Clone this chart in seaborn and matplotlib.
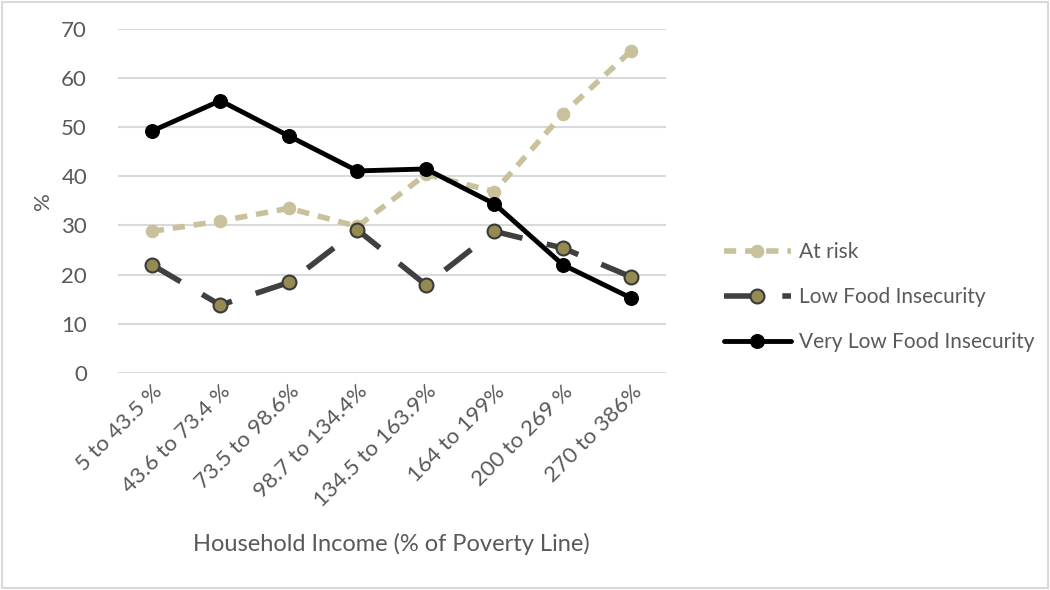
import pandas as pd
import matplotlib
matplotlib.use("Agg")
import matplotlib.pyplot as plt
import seaborn as sns

sns.set_style("white")
plt.rcParams["font.family"] = ["Lato", "DejaVu Sans"]

categories = ["5 to 43.5 %", "43.6 to 73.4 %", "73.5 to 98.6%", "98.7 to 134.4%",
              "134.5 to 163.9%", "164 to 199%", "200 to 269 %", "270 to 386%"]
at_risk = [28.8, 30.9, 33.5, 29.8, 40.4, 36.9, 52.7, 65.6]
low_fi = [22.0, 13.8, 18.4, 29.1, 17.9, 28.8, 25.4, 19.5]
very_low_fi = [49.2, 55.4, 48.2, 41.1, 41.5, 34.4, 22.0, 15.2]

df = pd.DataFrame({"cat": categories, "pos": range(len(categories)),
                   "At risk": at_risk, "Low Food Insecurity": low_fi,
                   "Very Low Food Insecurity": very_low_fi})

fig = plt.figure(figsize=(10.5, 5.9), dpi=100)
ax = fig.add_axes([0.112, 0.368, 0.522, 0.583])

txt = "#595959"

sns.lineplot(data=df, x="pos", y="At risk", ax=ax, color="#C9C19B", lw=4,
             marker="o", markersize=9, markeredgecolor="#C9C19B",
             dashes=(2.2, 1.6), label="At risk", zorder=3)
sns.lineplot(data=df, x="pos", y="Low Food Insecurity", ax=ax, color="#404040", lw=4,
             marker="o", markersize=10, markerfacecolor="#948A52",
             markeredgecolor="#3a3a3a", markeredgewidth=1.5,
             dashes=(6, 4.5), label="Low Food Insecurity", zorder=4)
sns.lineplot(data=df, x="pos", y="Very Low Food Insecurity", ax=ax, color="black", lw=3.5,
             marker="o", markersize=10, markeredgecolor="black",
             label="Very Low Food Insecurity", zorder=5)

ax.set_xlim(-0.5, len(categories) - 0.5)
ax.set_ylim(0, 70)
ax.set_yticks(range(0, 71, 10))
ax.set_xticks(df["pos"])
ax.set_xticklabels(categories, rotation=45, ha="right", rotation_mode="anchor",
                   fontsize=16, color=txt)
ax.tick_params(axis="y", labelsize=16, labelcolor=txt, length=0, pad=22)
ax.tick_params(axis="x", length=0, pad=6)
ax.yaxis.grid(True, color="#d9d9d9", lw=1.5)
ax.set_axisbelow(True)
for s in ax.spines.values():
    s.set_visible(False)

ax.set_ylabel("%", fontsize=16, color=txt, labelpad=6)
ax.set_xlabel("Household Income (% of Poverty Line)", fontsize=17, color=txt, labelpad=16)

leg = ax.legend(loc="center left", bbox_to_anchor=(1.072, 0.22), frameon=False,
                fontsize=15, labelcolor=txt, handlelength=3.2, handletextpad=0.4,
                labelspacing=1.2)

fig.patches.append(plt.Rectangle((0.002, 0.003), 0.996, 0.994, transform=fig.transFigure,
                                 fill=False, edgecolor="#d9d9d9", lw=1.5))

fig.savefig("out.png", dpi=100)
